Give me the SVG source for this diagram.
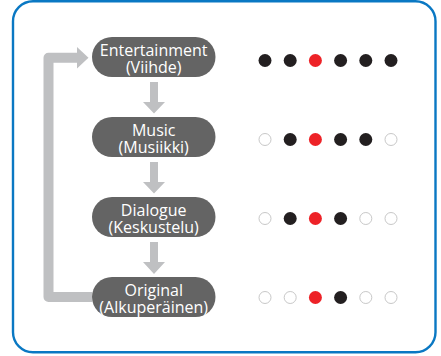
<svg xmlns="http://www.w3.org/2000/svg" width="441" height="356" viewBox="0 0 441 356">
<style>
.node rect{fill:#646464}
.node text{fill:#ffffff;font-family:"Open Sans","Noto Sans",sans-serif;font-size:16px;text-anchor:middle}
.conn{fill:#bfc0c2}
.b{fill:#231f20}
.r{fill:#ed2227}
.o{fill:#ffffff;stroke:#c8c8c8;stroke-width:1}
</style>
<rect x="13" y="1.2" width="422.5" height="351" rx="20" fill="#ffffff" stroke="#0a78c3" stroke-width="2.4"/>
<g id="connectors">
<path d="M92 297 H48.5 V57.8 H78" fill="none" stroke="#bfc0c2" stroke-width="10" stroke-linejoin="round"/>
<polygon class="conn" points="77,47 88.5,57.8 77,68.6"/>
<path class="conn" d="M150 82 H158 V102 H165 L154 113.5 L143 102 H150 Z"/>
<path class="conn" d="M150 162 H158 V182 H165 L154 193.5 L143 182 H150 Z"/>
<path class="conn" d="M150 242 H158 V262 H165 L154 274 L143 262 H150 Z"/>
</g>
<g id="node-entertainment" class="node">
<rect x="92" y="37" width="123.5" height="40" rx="20"/>
<text x="153.7" y="55.8">Entertainment<tspan x="153.7" dy="16.8">(Viihde)</tspan></text>
</g>
<g id="node-music" class="node">
<rect x="92" y="117" width="123.5" height="40" rx="20"/>
<text x="153.7" y="135.8">Music<tspan x="153.7" dy="16.8">(Musiikki)</tspan></text>
</g>
<g id="node-dialogue" class="node">
<rect x="92" y="197" width="123.5" height="40" rx="20"/>
<text x="153.7" y="215.8">Dialogue<tspan x="153.7" dy="16.8">(Keskustelu)</tspan></text>
</g>
<g id="node-original" class="node">
<rect x="92" y="277" width="123.5" height="40" rx="20"/>
<text x="153.7" y="295.8">Original<tspan x="153.7" dy="16.8">(Alkuperäinen)</tspan></text>
</g>
<g id="dots-1">
<circle class="b" cx="265" cy="60.5" r="6.5"/>
<circle class="b" cx="290.2" cy="60.5" r="6.5"/>
<circle class="r" cx="315.4" cy="60.5" r="6.5"/>
<circle class="b" cx="340.6" cy="60.5" r="6.5"/>
<circle class="b" cx="365.8" cy="60.5" r="6.5"/>
<circle class="b" cx="391" cy="60.5" r="6.5"/>
</g>
<g id="dots-2">
<circle class="o" cx="265" cy="139.5" r="6"/>
<circle class="b" cx="290.2" cy="139.5" r="6.5"/>
<circle class="r" cx="315.4" cy="139.5" r="6.5"/>
<circle class="b" cx="340.6" cy="139.5" r="6.5"/>
<circle class="b" cx="365.8" cy="139.5" r="6.5"/>
<circle class="o" cx="391" cy="139.5" r="6"/>
</g>
<g id="dots-3">
<circle class="o" cx="265" cy="218.5" r="6"/>
<circle class="b" cx="290.2" cy="218.5" r="6.5"/>
<circle class="r" cx="315.4" cy="218.5" r="6.5"/>
<circle class="b" cx="340.6" cy="218.5" r="6.5"/>
<circle class="o" cx="365.8" cy="218.5" r="6"/>
<circle class="o" cx="391" cy="218.5" r="6"/>
</g>
<g id="dots-4">
<circle class="o" cx="265" cy="297.5" r="6"/>
<circle class="o" cx="290.2" cy="297.5" r="6"/>
<circle class="r" cx="315.4" cy="297.5" r="6.5"/>
<circle class="b" cx="340.6" cy="297.5" r="6.5"/>
<circle class="o" cx="365.8" cy="297.5" r="6"/>
<circle class="o" cx="391" cy="297.5" r="6"/>
</g>
</svg>
